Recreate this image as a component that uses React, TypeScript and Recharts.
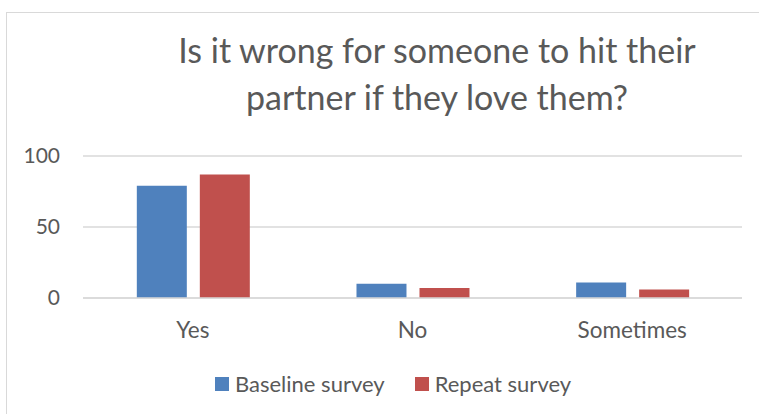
import React from "react";
import { BarChart, Bar, XAxis, YAxis, CartesianGrid, Legend } from "recharts";

// ==================== DATA ====================
const categories = ["Yes", "No", "Sometimes"];
const baselineSurvey = [79, 10, 11];
const repeatSurvey = [87, 7, 6];
const yTicks = [0, 50, 100];

const chartData = categories.map((c, i) => ({
  answer: c,
  baseline: baselineSurvey[i],
  repeat: repeatSurvey[i],
}));

const FONT = "Lato, 'Open Sans', sans-serif";
const TEXT = "#595959";
const GRID = "#D9D9D9";

function LegendContent(props: any) {
  const payload = props.payload || [];
  return (
    <div style={{ display: "flex", alignItems: "center", fontFamily: FONT, fontSize: 22, color: TEXT }}>
      {payload.map((entry: any) => (
        <span key={entry.value} style={{ display: "flex", alignItems: "center", marginRight: 30 }}>
          <span style={{ width: 14, height: 14, background: entry.color, marginRight: 6, display: "inline-block" }} />
          {entry.value}
        </span>
      ))}
    </div>
  );
}

export default function App() {
  return (
    <div
      style={{
        position: "fixed",
        left: 0,
        top: 0,
        width: 759,
        height: 414,
        overflow: "hidden",
        background: "#fff",
      }}
    >
      <div
        style={{
          position: "absolute",
          left: 6,
          top: 12,
          width: 800,
          height: 500,
          border: `1px solid ${GRID}`,
        }}
      />
      <div
        style={{
          position: "absolute",
          left: 0,
          top: 26,
          width: 874,
          textAlign: "center",
          fontFamily: FONT,
          fontWeight: 400,
          fontSize: 34,
          lineHeight: "47px",
          color: TEXT,
        }}
      >
        <div>Is it wrong for someone to hit their</div>
        <div>partner if they love them?</div>
      </div>
      <div style={{ position: "absolute", left: 0, top: 0 }}>
        <BarChart
          width={759}
          height={414}
          data={chartData}
          margin={{ top: 156, right: 17, bottom: 86, left: 23 }}
          barCategoryGap="24.5%"
          barGap={13}
        >
          <CartesianGrid vertical={false} stroke={GRID} strokeWidth={1.5} />
          <XAxis
            dataKey="answer"
            axisLine={{ stroke: GRID, strokeWidth: 1.5 }}
            tickLine={false}
            tickSize={0}
            tickMargin={24}
            height={30}
            tick={{ fill: TEXT, fontSize: 22.5, fontFamily: FONT }}
          />
          <YAxis
            domain={[0, 100]}
            ticks={yTicks}
            width={60}
            axisLine={false}
            tickLine={false}
            tickSize={0}
            tickMargin={23}
            tick={{ fill: TEXT, fontSize: 21, fontFamily: FONT }}
          />
          <Legend
            layout="horizontal"
            verticalAlign="middle"
            align="center"
            wrapperStyle={{ left: 215, top: 370, width: "auto" }}
            content={<LegendContent />}
          />
          <Bar dataKey="baseline" name="Baseline survey" fill="#4F81BD" isAnimationActive={false} />
          <Bar dataKey="repeat" name="Repeat survey" fill="#C0504D" isAnimationActive={false} />
        </BarChart>
      </div>
    </div>
  );
}
